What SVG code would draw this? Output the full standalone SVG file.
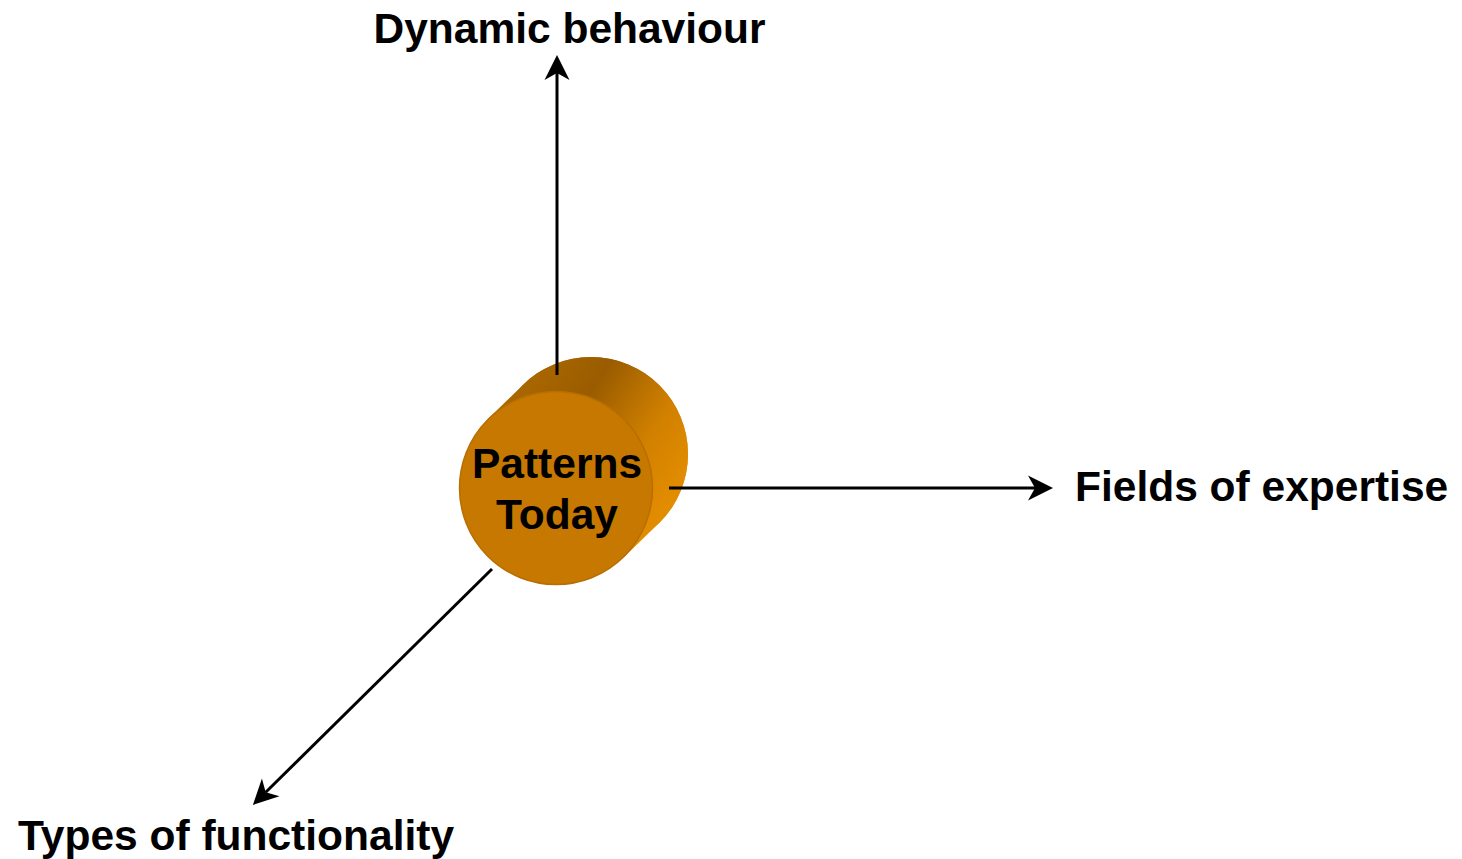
<svg xmlns="http://www.w3.org/2000/svg" width="1462" height="859" viewBox="0 0 1462 859">
  <style>
    .lbl { font-family: "Liberation Sans", Arial, sans-serif; font-weight: bold; font-size: 42.5px; fill: #000; }
    .conn { stroke: #000; stroke-width: 3; fill: none; marker-end: url(#arrow); }
  </style>
  <defs>
    <!-- arrowhead: tip sits 18px beyond the end of the line -->
    <marker id="arrow" markerWidth="30" markerHeight="30" refX="0" refY="0" orient="auto" markerUnits="userSpaceOnUse" style="overflow:visible">
      <path d="M 18 0 L -7 -12.5 L 0 0 L -7 12.5 Z" fill="#000"/>
    </marker>
    <linearGradient id="side" gradientUnits="userSpaceOnUse" x1="540" y1="370" x2="690" y2="470">
      <stop offset="0" stop-color="#a86600"/>
      <stop offset="0.3" stop-color="#9a5c00"/>
      <stop offset="0.7" stop-color="#d08000"/>
      <stop offset="1" stop-color="#e28c00"/>
    </linearGradient>
  </defs>

  <rect width="1462" height="859" fill="#fff"/>

  <!-- cylinder node -->
  <g id="patterns-today">
    <path d="M 487.4 419.4 L 522.4 385.4 A 97 97 0 0 1 659.6 522.6 L 624.6 556.6 Z" fill="url(#side)"/>
    <circle cx="591" cy="454" r="97" fill="url(#side)"/>
    <circle cx="556" cy="488" r="96.5" fill="#c67800" stroke="#b86e00" stroke-width="1.5"/>
    <text class="lbl" x="557" y="478" text-anchor="middle">Patterns</text>
    <text class="lbl" x="557" y="529" text-anchor="middle">Today</text>
  </g>

  <!-- axes -->
  <g id="connectors">
    <line class="conn" x1="557" y1="375" x2="557" y2="73"/>
    <line class="conn" x1="669" y1="488" x2="1035" y2="488"/>
    <line class="conn" x1="492" y1="569" x2="265.7" y2="792.3"/>
  </g>

  <g id="axis-labels">
    <text class="lbl" x="569.5" y="43" text-anchor="middle">Dynamic behaviour</text>
    <text class="lbl" x="1075" y="501">Fields of expertise</text>
    <text class="lbl" x="18" y="850">Types of functionality</text>
  </g>
</svg>
